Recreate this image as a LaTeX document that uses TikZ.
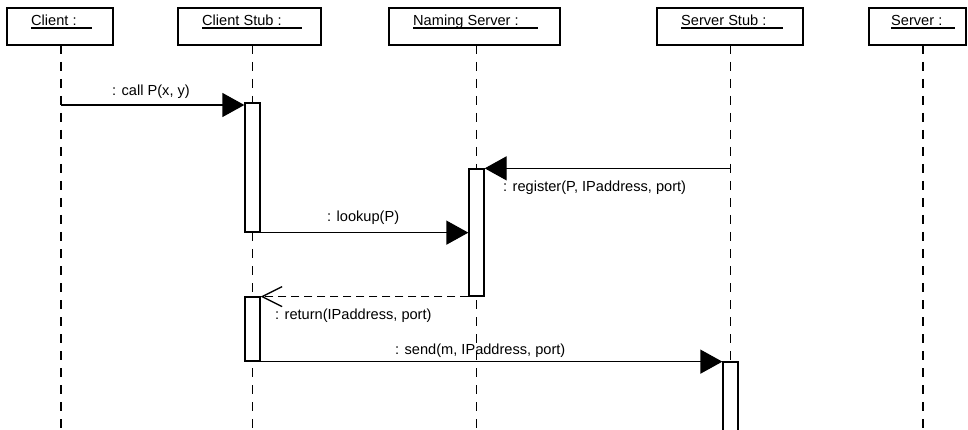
\documentclass[tikz,border=0pt]{standalone}
\usepackage{fontspec}
\setmainfont{Liberation Sans}
\usetikzlibrary{arrows.meta,calc}
\begin{document}
\begin{tikzpicture}[x=1pt,y=-1pt,
  every node/.style={font=\fontsize{14.6pt}{16pt}\selectfont},
  objbox/.style={draw,line width=1.8pt,inner sep=0pt,minimum height=37pt},
  objtext/.style={inner sep=0pt,anchor=base west},
  uline/.style={line width=1.2pt},
  lifeline/.style={line width=1.2pt,dash pattern=on 9pt off 8pt},
  actbox/.style={draw,fill=white,line width=1.3pt,inner sep=0pt,minimum width=15pt},
  msg/.style={line width=1.3pt,-{Triangle[length=22pt,width=24pt]}},
  reply/.style={line width=1.3pt,dash pattern=on 8pt off 5pt,-{Straight Barb[length=20pt,width=20pt,line width=1.3pt]}},
  msglabel/.style={inner sep=0pt,anchor=base west}]
\useasboundingbox (0,0) rectangle (968,430);

% object headers
\node[objbox,minimum width=106pt] (client) at (60,26.5) {};
\node[objbox,minimum width=143pt] (cstub) at (249.5,26.5) {};
\node[objbox,minimum width=171pt] (naming) at (474.5,26.5) {};
\node[objbox,minimum width=146pt] (sstub) at (730,26.5) {};
\node[objbox,minimum width=97pt] (server) at (917.5,26.5) {};

% header titles, underlined
\node[objtext] (t-client) at (31,25.5) {Client :};
\node[objtext] (t-cstub) at (202,25.5) {Client Stub :};
\node[objtext] (t-naming) at (413,25.5) {Naming Server :};
\node[objtext] (t-sstub) at (681,25.5) {Server Stub :};
\node[objtext] (t-server) at (891,25.5) {Server :};
\draw[uline] ($(t-client.base west)+(0,2.6)$) -- ++(61,0);
\draw[uline] ($(t-cstub.base west)+(0,2.6)$) -- ++(100,0);
\draw[uline] ($(t-naming.base west)+(0,2.6)$) -- ++(125,0);
\draw[uline] ($(t-sstub.base west)+(0,2.6)$) -- ++(102,0);
\draw[uline] ($(t-server.base west)+(0,2.6)$) -- ++(64,0);

% lifelines
\coordinate (cl) at (61,45);
\coordinate (csl) at (252.5,45);
\coordinate (nsl) at (476.5,45);
\coordinate (ssl) at (730.5,45);
\coordinate (sl) at (923,45);
\coordinate (bottom) at (0,432);
\foreach \l in {cl,csl,nsl,ssl,sl}
  \draw[lifeline] (\l) -- (\l |- bottom);

% activation bars
\node[actbox,minimum height=129pt] (cs1) at (252.5,167.5) {};
\node[actbox,minimum height=127pt] (ns1) at (476.5,232.5) {};
\node[actbox,minimum height=64pt] (cs2) at (252.5,329) {};
\node[actbox,minimum height=80pt] (ss1) at (730.5,402) {};

% messages
\coordinate (y-call) at (0,105);
\draw[msg] (cl |- y-call) -- (cs1.west |- y-call);
\node[msglabel] (l-call) at (112,96) {: call P(x, y)};

\draw[msg] (ssl |- ns1.north) -- (ns1.north east);
\node[msglabel] (l-register) at (503,192) {: register(P, IPaddress, port)};

\draw[msg] (cs1.south east) -- (ns1.west |- cs1.south);
\node[msglabel] (l-lookup) at (327,222) {: lookup(P)};

\draw[reply] (ns1.south west) -- (cs2.east |- ns1.south);
\node[msglabel] (l-return) at (275,319) {: return(IPaddress, port)};

\draw[msg] (cs2.south east) -- (ss1.west |- cs2.south);
\node[msglabel] (l-send) at (395,354) {: send(m, IPaddress, port)};
\end{tikzpicture}
\end{document}
